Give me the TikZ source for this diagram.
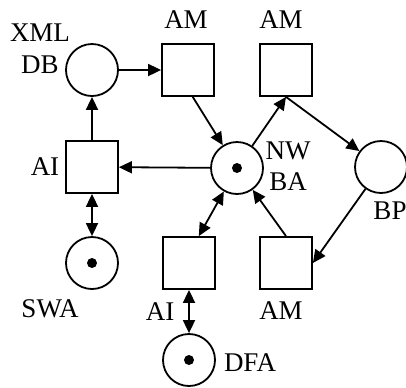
\documentclass[tikz,border=0pt]{standalone}
\usepackage{fontspec}
\setmainfont{Liberation Serif}
\usetikzlibrary{arrows.meta}
\begin{document}
\begin{tikzpicture}[x=0.5pt,y=-0.5pt,
  every node/.style={font=\fontsize{13.5}{16}\selectfont},
  place/.style={draw,circle,minimum size=26pt,inner sep=0pt,line width=0.9pt},
  trans/.style={draw,rectangle,minimum size=26pt,inner sep=0pt,line width=0.9pt},
  lbl/.style={inner sep=0pt},
  tok/.style={fill,circle,minimum size=5pt,inner sep=0pt},
  arc/.style={line width=0.9pt,-{Triangle[length=6.5pt,width=6pt]}},
  darc/.style={line width=0.9pt,{Triangle[length=6.5pt,width=6pt]}-{Triangle[length=6.5pt,width=6pt]}}]
\useasboundingbox (0,0) rectangle (406,387);
% places
\node[place] (xmldb) at (92,70) {};
\node[place] (nwba) at (237,168) {};
\node[place] (bp) at (381,167) {};
\node[place] (swa) at (92,263) {};
\node[place] (dfa) at (189,360) {};
% tokens
\node[tok] (t1) at (nwba) {};
\node[tok] (t2) at (swa) {};
\node[tok] (t3) at (dfa) {};
% transitions
\node[trans] (am1) at (188,70) {};
\node[trans] (am2) at (286,70) {};
\node[trans] (ai1) at (92,167) {};
\node[trans] (ai2) at (189,263) {};
\node[trans] (am3) at (286,263) {};
% labels
\node[lbl] (lxml) at (40,33) {XML};
\node[lbl] (ldb) at (40,65) {DB};
\node[lbl] (lam1) at (186,20) {AM};
\node[lbl] (lam2) at (281,20) {AM};
\node[lbl] (lai1) at (45,167) {AI};
\node[lbl] (lnw) at (288,151) {NW};
\node[lbl] (lba) at (288,182) {BA};
\node[lbl] (lbp) at (390,211) {BP};
\node[lbl] (lswa) at (50,309) {SWA};
\node[lbl] (lai2) at (160,312) {AI};
\node[lbl] (lam3) at (281,311) {AM};
\node[lbl] (ldfa) at (250,363) {DFA};
% arcs
\draw[arc] (xmldb) -- (am1);
\draw[arc] (ai1) -- (xmldb);
\draw[arc] (nwba) -- (ai1);
\draw[arc] (am1.-80) -- (nwba);
\draw[arc] (nwba) -- (am2.south);
\draw[arc] (am2.south) -- (bp);
\draw[arc] (bp) -- (am3.east);
\draw[arc] (am3.north) -- (nwba);
\draw[darc] (ai2.70) -- (nwba);
\draw[darc] (ai1) -- (swa);
\draw[darc] (ai2) -- (dfa);
\end{tikzpicture}
\end{document}
